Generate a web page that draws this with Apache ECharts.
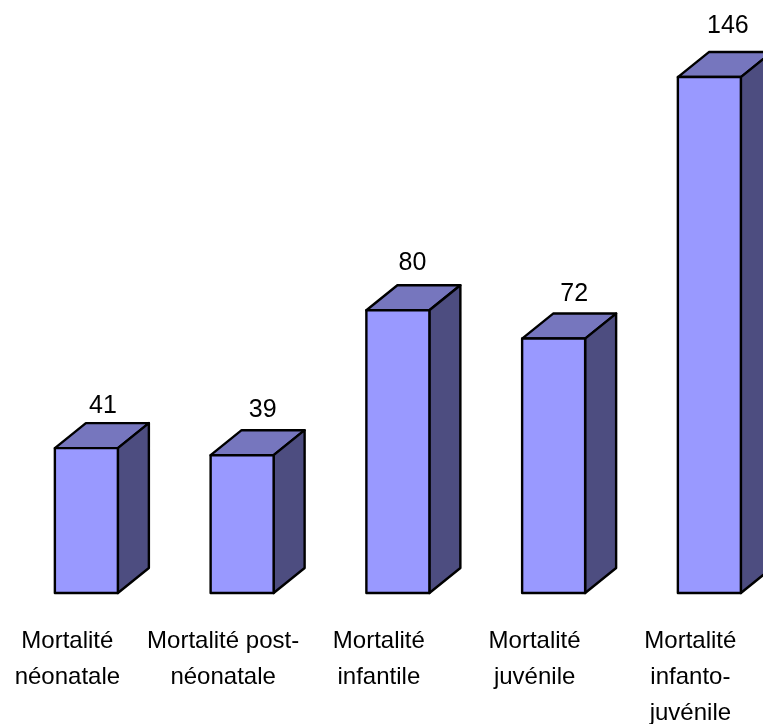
<!DOCTYPE html>
<html>
<head>
<meta charset="utf-8">
<style>html,body{margin:0;padding:0;background:#fff}#chart{width:763px;height:724px}</style>
<script src="https://cdn.jsdelivr.net/npm/echarts@6/dist/echarts.min.js"></script>
</head>
<body>
<div id="chart"></div>
<script>
// Mortalité des enfants, pour 1000 naissances
const categories = [
  'Mortalité\nnéonatale',
  'Mortalité post-\nnéonatale',
  'Mortalité\ninfantile',
  'Mortalité\njuvénile',
  'Mortalité\ninfanto-\njuvénile'
];
const values = [41, 39, 80, 72, 146];

// Hand-placed value labels, relative to the top-left corner of each front face
const labelOffsets = [[48, -42.5], [52, -45], [46, -46.7], [52, -44.3], [50, -51.3]];

const FONT = '"Liberation Sans", Arial, sans-serif';
const DEPTH_X = 31, DEPTH_Y = 25, FRONT_W = 63, SHIFT = -12.5;
const STROKE = { stroke: '#000', lineWidth: 2.4, lineJoin: 'round' };

// Extruded bar: top and side faces behind the front face, value above
function renderBar(params, api) {
  const base = api.coord([api.value(0), 0]);
  const head = api.coord([api.value(0), api.value(1)]);
  const x0 = base[0] + SHIFT, x1 = x0 + FRONT_W;
  const yB = base[1], yT = head[1];
  const offset = labelOffsets[params.dataIndex];
  const face = (points, fill) => ({
    type: 'polygon',
    shape: { points },
    style: Object.assign({ fill }, STROKE)
  });
  return {
    type: 'group',
    children: [
      face([[x0, yT], [x0 + DEPTH_X, yT - DEPTH_Y], [x1 + DEPTH_X, yT - DEPTH_Y], [x1, yT]], '#7676BE'),
      face([[x1, yT], [x1 + DEPTH_X, yT - DEPTH_Y], [x1 + DEPTH_X, yB - DEPTH_Y], [x1, yB]], '#4D4D80'),
      face([[x0, yT], [x1, yT], [x1, yB], [x0, yB]], '#9999FF'),
      {
        type: 'text',
        style: {
          x: x0 + offset[0],
          y: yT + offset[1],
          text: String(api.value(1)),
          fill: '#000',
          font: '25px ' + FONT,
          align: 'center',
          verticalAlign: 'middle'
        }
      }
    ]
  };
}

const chart = echarts.init(document.getElementById('chart'), null, { renderer: 'canvas' });
chart.setOption({
  animation: false,
  backgroundColor: '#fff',
  grid: {
    left: -10.5,
    width: 778.75,
    top: 27.6,
    bottom: 131,
    containLabel: false,
    outerBoundsMode: 'none'
  },
  xAxis: {
    type: 'category',
    data: categories,
    axisLine: { show: false },
    axisTick: { show: false },
    axisLabel: {
      interval: 0,
      margin: 30,
      color: '#000',
      fontFamily: FONT,
      fontSize: 24,
      lineHeight: 36,
      align: 'center',
      verticalAlign: 'top'
    }
  },
  yAxis: { type: 'value', min: 0, max: 160, show: false },
  series: [{
    type: 'custom',
    clip: false,
    renderItem: renderBar,
    encode: { x: 0, y: 1 },
    data: values.map((v, i) => [i, v])
  }]
});
</script>
</body>
</html>
